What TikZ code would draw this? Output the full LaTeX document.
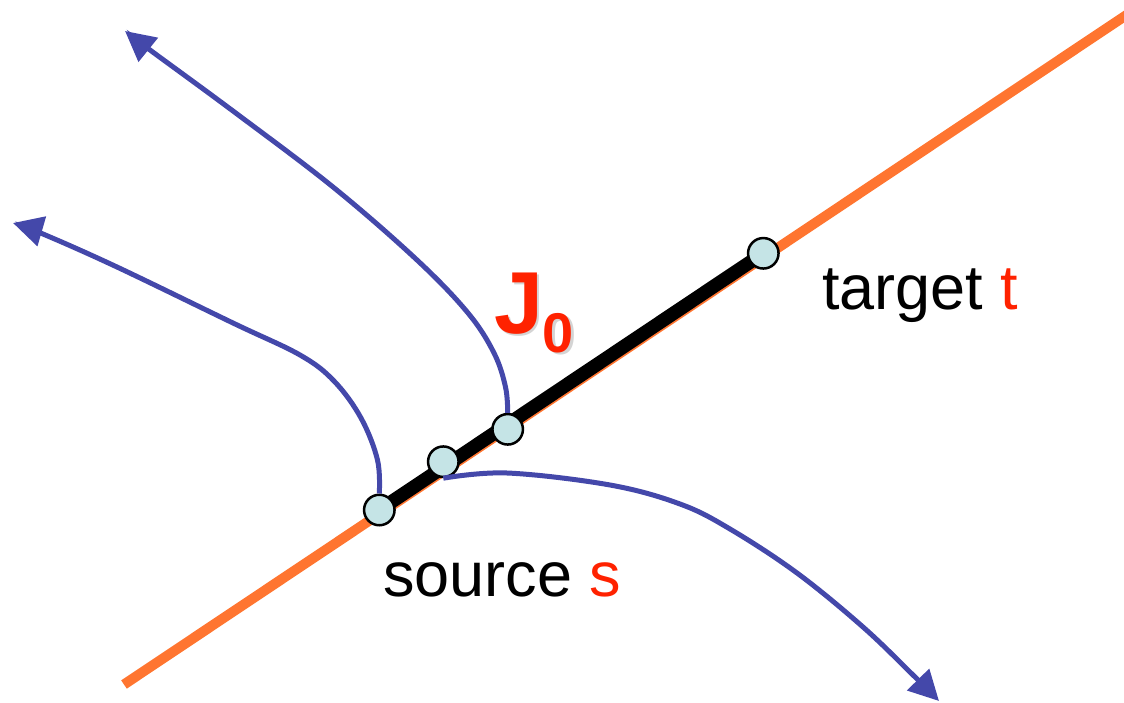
\documentclass[tikz,border=0pt]{standalone}
\usepackage{fontspec}
\setmainfont{Liberation Sans}
\usetikzlibrary{arrows.meta}
\definecolor{orangeline}{RGB}{255,117,48}
\definecolor{blueline}{RGB}{68,72,170}
\definecolor{vfill}{RGB}{197,228,230}
\definecolor{redtxt}{RGB}{255,34,0}
\definecolor{shadowgray}{RGB}{212,212,212}
\tikzset{
  vert/.style={circle,draw=black,line width=2.5pt,fill=vfill,minimum size=30.5pt,inner sep=0pt},
  flow/.style={draw=blueline,line width=5pt,-{Triangle[length=30pt,width=30pt]}},
  lbl/.style={inner sep=0pt,anchor=base west,font=\fontsize{63}{70}\selectfont},
}
\begin{document}
\begin{tikzpicture}[x=1pt,y=-1pt]
\useasboundingbox (0,0) rectangle (1124,703);
% positions
\coordinate (o1) at (124,684.5);
\coordinate (o2) at (1134,10);
\coordinate (p1) at (379.3,510);
\coordinate (p2) at (443.3,461.7);
\coordinate (p3) at (507.7,429.3);
\coordinate (p4) at (763.3,253.3);
% path lines
\draw[orangeline,line width=10pt] (o1) -- (o2);
\draw[black,line width=13.5pt] (p1) -- (p4);
% vertices
\node[vert] (c1) at (p1) {};
\node[vert] (c2) at (p2) {};
\node[vert] (c3) at (p3) {};
\node[vert] (c4) at (p4) {};
% blue flows
\coordinate (e1) at (13,223);
\draw[flow] plot[smooth,tension=0.6] coordinates {(c1.north) (377.5,460) (361,418) (334,381) (300,355) (233,323) (117,267) (43,234) (e1)};
\coordinate (e2) at (125,31);
\draw[flow] plot[smooth,tension=0.6] coordinates {(c3.north) (505.5,387) (494,353) (468,313) (417,260) (333,187) (233,111) (150,50) (e2)};
\coordinate (e3) at (939,701);
\draw[flow] plot[smooth,tension=0.6] coordinates {(c2.south) (507,473) (610,485) (680,504) (730,529) (797,573) (863,627) (913,675) (e3)};
% labels
\node[lbl] (src) at (383,596) {source \textcolor{redtxt}{s}};
\node[lbl] (tgt) at (822,309) {target \textcolor{redtxt}{t}};
\node[inner sep=0pt,anchor=base west,text=shadowgray,font=\bfseries\fontsize{88}{90}\selectfont] (jsh) at (496.5,335.5) {J};
\node[inner sep=0pt,anchor=base west,text=shadowgray,font=\bfseries\fontsize{56}{60}\selectfont] (zsh) at (545,354.5) {0};
\node[inner sep=0pt,anchor=base west,text=redtxt,font=\bfseries\fontsize{88}{90}\selectfont] (J) at (494,333) {J};
\node[inner sep=0pt,anchor=base west,text=redtxt,font=\bfseries\fontsize{56}{60}\selectfont] (zero) at (542.5,352) {0};
\end{tikzpicture}
\end{document}
